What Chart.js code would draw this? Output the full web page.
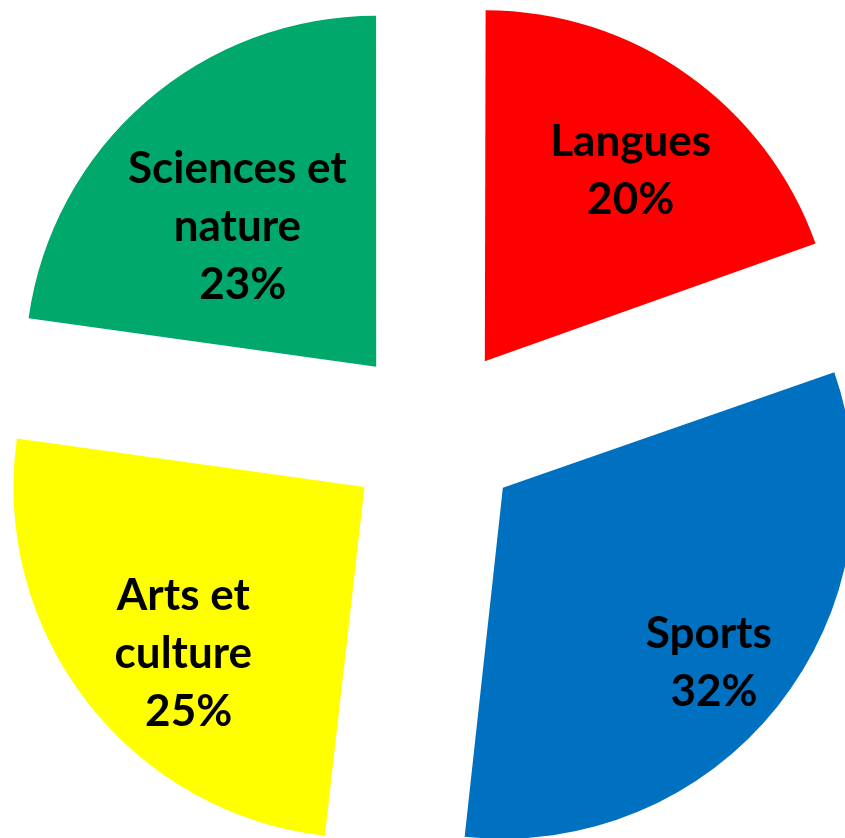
<!DOCTYPE html>
<html>
<head>
<meta charset="utf-8">
<script src="https://cdn.jsdelivr.net/npm/chart.js@4.4.1/dist/chart.umd.min.js"></script>
<style>
  html, body { margin: 0; padding: 0; width: 845px; height: 838px; overflow: hidden; background: #fff; }
  #wrap { position: absolute; left: 0; top: 0; width: 868px; height: 866px; }
</style>
</head>
<body>
<div id="wrap"><canvas id="pie"></canvas></div>
<script>
  const categories = ["Langues", "Sports", "Arts et culture", "Sciences et nature"];
  const shares = [19.6, 32.2, 25.4, 22.8];
  const sliceColors = ["#ff0000", "#0070c0", "#ffff00", "#00a86b"];

  // how each category name breaks inside its slice
  const labelLines = [["Langues"], ["Sports"], ["Arts et", "culture"], ["Sciences et", "nature"]];
  const percentPrefix = ["", " ", " ", " "];

  const explode = 88;
  const pieRadius = 351;
  const labelRadius = [0.686, 0.767, 0.70, 0.564];
  const labelTurn = [2.0, 1.6, -4.7, -3.5];

  const sliceLabels = {
    id: "sliceLabels",
    afterDatasetUpdate(chart, args) {
      // chart.js grows narrow exploded slices a bit, keep them all the same size
      args.meta.data.forEach((arc) => {
        const fix = 1 - Math.sin(Math.min(Math.PI, arc.circumference));
        arc.outerRadius = pieRadius - explode * fix;
      });
    },
    afterDatasetsDraw(chart) {
      const ctx = chart.ctx;
      const meta = chart.getDatasetMeta(0);
      const total = shares.reduce((sum, v) => sum + v, 0);
      const lineHeight = 58;
      const capHeight = 31;

      ctx.save();
      ctx.font = "bold 44px Lato";
      ctx.fillStyle = "#000";
      ctx.textAlign = "center";
      ctx.textBaseline = "alphabetic";

      meta.data.forEach((arc, i) => {
        const half = (arc.startAngle + arc.endAngle) / 2;
        const cx = arc.x + Math.cos(half) * explode;
        const cy = arc.y + Math.sin(half) * explode;
        const a = half + labelTurn[i] * Math.PI / 180;
        const r = pieRadius * labelRadius[i];
        const lx = cx + Math.cos(a) * r;
        const ly = cy + Math.sin(a) * r;

        const lines = [...labelLines[i], percentPrefix[i] + Math.round(shares[i] / total * 100) + "%"];
        const blockH = (lines.length - 1) * lineHeight + capHeight;
        const base = ly - blockH / 2 + capHeight;
        lines.forEach((t, k) => ctx.fillText(t, lx, base + k * lineHeight));
      });

      ctx.restore();
    }
  };

  new Chart(document.getElementById("pie"), {
    type: "pie",
    data: {
      labels: categories,
      datasets: [{
        data: shares,
        backgroundColor: sliceColors,
        borderWidth: 0,
        offset: explode * 4
      }]
    },
    options: {
      responsive: true,
      maintainAspectRatio: false,
      animation: false,
      events: [],
      radius: pieRadius,
      layout: { padding: 0 },
      plugins: {
        legend: { display: false },
        tooltip: { enabled: false }
      }
    },
    plugins: [sliceLabels]
  });
</script>
</body>
</html>
